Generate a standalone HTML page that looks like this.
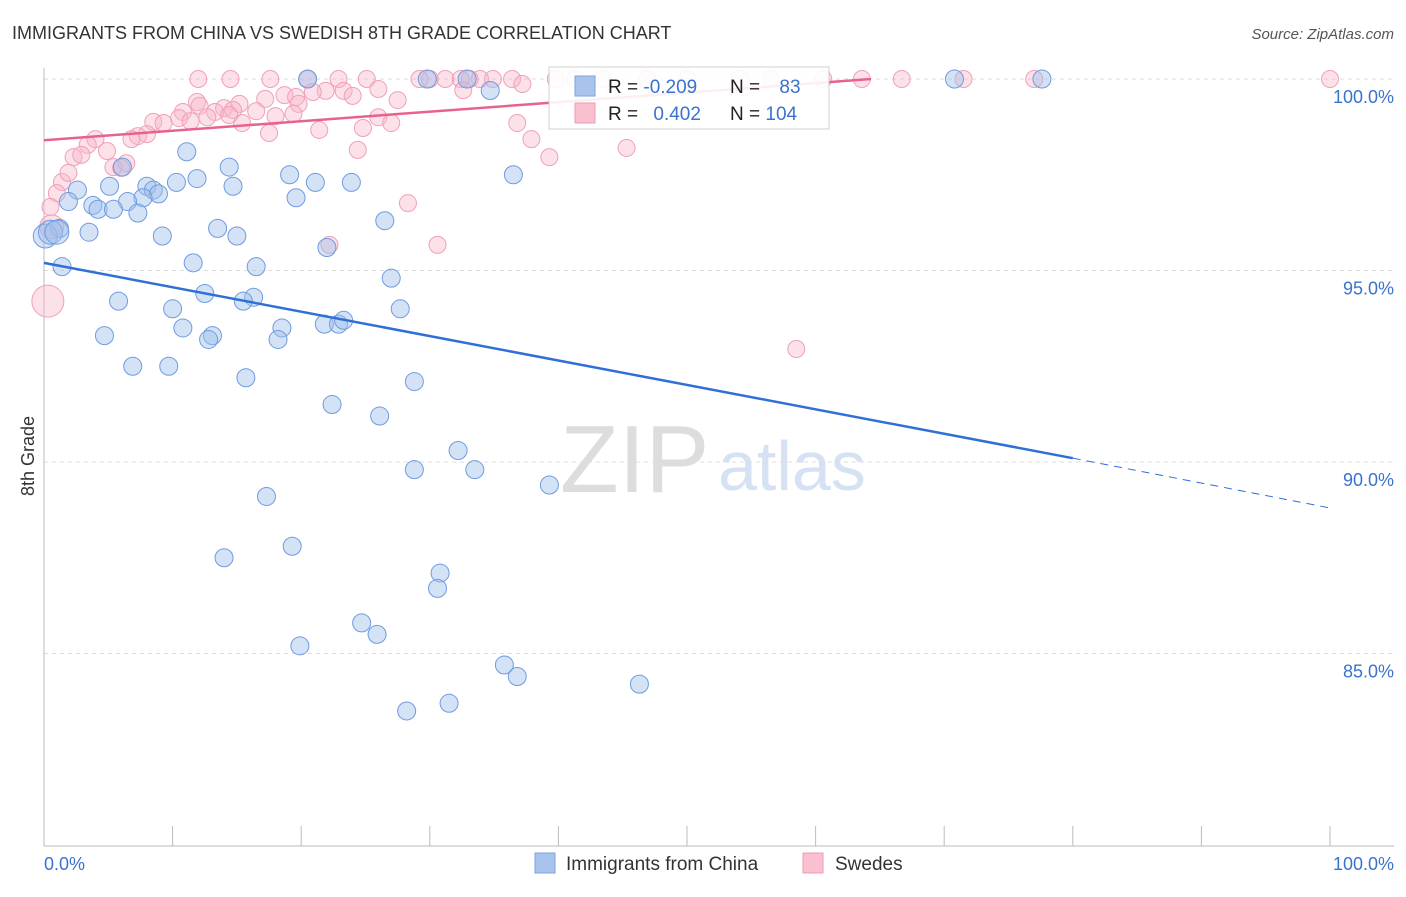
<!DOCTYPE html>
<html><head><meta charset="utf-8"><style>
body{margin:0;background:#fff;font-family:"Liberation Sans",sans-serif}
svg text{font-family:"Liberation Sans",sans-serif}
</style></head><body>
<svg id="c" width="1406" height="892">
<text x="12" y="39" font-size="18" fill="#333">IMMIGRANTS FROM CHINA VS SWEDISH 8TH GRADE CORRELATION CHART</text>
<text x="1394" y="39" font-size="15" fill="#555" font-style="italic" text-anchor="end">Source: ZipAtlas.com</text>
<text x="560" y="492" font-size="96" fill="#ddd" font-family="Liberation Serif">ZIP</text>
<text x="718" y="490" font-size="70" fill="#d6e2f3">atlas</text>
<text x="34" y="456" font-size="18" fill="#333" transform="rotate(-90 34 456)" text-anchor="middle">8th Grade</text>
<g id="grid"></g><g id="pts"></g><g id="lines"></g>
<g>
<rect x="549" y="67" width="280" height="62" fill="#fff" stroke="#ccc" opacity="0.9"/>
<rect x="575" y="76" width="20" height="20" fill="#a9c4ec" stroke="#7aa3e0"/>
<rect x="575" y="103" width="20" height="20" fill="#f9c0d0" stroke="#f09ab3"/>
<text x="608" y="93" font-size="19" fill="#222">R = <tspan fill="#3a72d0">-0.209</tspan></text>
<text x="730" y="93" font-size="19" fill="#222">N = <tspan fill="#3a72d0" dx="14">83</tspan></text>
<text x="608" y="120" font-size="19" fill="#222">R = <tspan fill="#3a72d0" dx="10">0.402</tspan></text>
<text x="730" y="120" font-size="19" fill="#222">N = <tspan fill="#3a72d0">104</tspan></text>
</g>
<g>
<rect x="535" y="853" width="20" height="20" fill="#a9c4ec" stroke="#7aa3e0"/>
<text x="566" y="870" font-size="19" fill="#333">Immigrants from China</text>
<rect x="803" y="853" width="20" height="20" fill="#f9c0d0" stroke="#f09ab3"/>
<text x="835" y="870" font-size="19" fill="#333">Swedes</text>
</g>
<text x="44" y="870" font-size="18" fill="#3a72d0">0.0%</text>
<text x="1394" y="870" font-size="18" fill="#3a72d0" text-anchor="end">100.0%</text>
</svg>
<script>
const yTicks=[100,95,90,85];
const yTickLabels=["100.0%","95.0%","90.0%","85.0%"];
const chinaX=[20.5,29.8,32.9,70.8,77.6,34.7,11.1,14.4,6.1,36.5,19.1,23.9,21.1,10.3,11.9,8.0,5.1,14.7,8.5,8.9,2.6,19.6,7.7,6.5,1.9,3.8,4.2,5.4,7.3,26.5,13.5,1.2,3.5,9.2,15.0,0.1,0.5,1.0,22.0,11.6,16.5,1.4,27.0,5.8,12.5,16.3,15.5,10.0,27.7,21.8,22.9,23.3,18.5,10.8,13.1,12.8,18.2,4.7,6.9,9.7,15.7,28.8,22.4,26.1,32.2,33.5,28.8,39.3,17.3,19.3,14.0,30.8,30.6,24.7,25.9,19.9,35.8,36.8,46.3,31.5,28.2];
const chinaY=[100,100,100,100,100,99.7,98.1,97.7,97.7,97.5,97.5,97.3,97.3,97.3,97.4,97.2,97.2,97.2,97.1,97.0,97.1,96.9,96.9,96.8,96.8,96.7,96.6,96.6,96.5,96.3,96.1,96.1,96.0,95.9,95.9,95.9,96.0,96.0,95.6,95.2,95.1,95.1,94.8,94.2,94.4,94.3,94.2,94.0,94.0,93.6,93.6,93.7,93.5,93.5,93.3,93.2,93.2,93.3,92.5,92.5,92.2,92.1,91.5,91.2,90.3,89.8,89.8,89.4,89.1,87.8,87.5,87.1,86.7,85.8,85.5,85.2,84.7,84.4,84.2,83.7,83.5];
const swedeX=[100,77.0,71.5,66.7,63.6,60.6,56.5,54.1,50.0,46.9,43.5,41.3,39.8,36.4,34.9,33.9,33.1,32.4,31.2,30.0,29.2,25.1,22.9,20.5,17.6,14.5,12.0,
37.2,32.6,26.0,21.9,23.3,24.0,20.9,18.7,19.6,27.5,17.2,15.2,11.9,12.1,14.0,19.8,10.8,13.3,14.7,16.5,10.5,12.7,19.4,26.0,8.5,9.3,11.4,15.4,18.0,14.4,27.0,36.8,21.4,17.5,24.8,8.0,7.3,6.8,4.0,3.4,37.9,24.4,45.3,39.3,4.9,2.3,2.9,5.4,6.4,6.0,1.4,1.9,1.0,0.5,28.3,0.6,30.6,22.2,58.5,0.3];
const swedeY=[100,100,100,100,100,100,100,100,100,100,100,100,100,100,100,100,100,100,100,100,100,100,100,100,100,100,100,
99.87,99.71,99.74,99.69,99.69,99.56,99.66,99.58,99.53,99.45,99.48,99.35,99.4,99.3,99.24,99.35,99.14,99.14,99.19,99.16,98.98,99.0,99.09,99.0,98.88,98.85,98.9,98.85,99.03,99.06,98.85,98.85,98.67,98.59,98.72,98.56,98.51,98.43,98.43,98.28,98.43,98.15,98.2,97.96,98.12,97.96,98.02,97.7,97.8,97.68,97.31,97.55,97.02,96.66,96.76,96.14,95.67,95.67,92.95,94.2];
const chinaTrend=[[0,95.2],[80,90.1],[100,88.8]];
const swedeTrend=[[0,98.4],[64.3,100]];
const NS="http://www.w3.org/2000/svg";
const X=v=>44+v*12.86, Y=v=>79+(100-v)*38.3;
function mk(t,a,p){const e=document.createElementNS(NS,t);for(const k in a)e.setAttribute(k,a[k]);p.appendChild(e);return e;}
const g=document.getElementById('grid');
yTicks.forEach((t,i)=>{
 const l=mk('line',{x1:44,x2:1394,y1:Y(t),y2:Y(t),stroke:'#ddd','stroke-dasharray':'4,4'},g);
 
 
 const tx=mk('text',{x:1394,y:Y(t)+24,'font-size':18,fill:'#3a72d0','text-anchor':'end'},g);
 tx.textContent=yTickLabels[i];
 
 
});
mk('line',{x1:44,x2:44,y1:68,y2:846,stroke:'#bbb'},g);
mk('line',{x1:44,x2:1394,y1:846,y2:846,stroke:'#bbb'},g);
for(let i=0;i<=10;i++){const tk=mk('line',{x1:X(i*10),x2:X(i*10),y1:826,y2:846,stroke:'#bbb'},g);
 
 }
const p=document.getElementById('pts');
swedeX.forEach((x,i)=>{const c=mk('circle',{cx:X(x),cy:Y(swedeY[i]),r:i==swedeX.length-1?16:(i>=swedeX.length-6&&x<2?12:8.5),fill:'rgba(248,180,200,0.4)',stroke:'#f0a0b8','stroke-width':1},p);
 
 });
chinaX.forEach((x,i)=>{const c=mk('circle',{cx:X(x),cy:Y(chinaY[i]),r:(i>=35&&i<=37)?12:9,fill:'rgba(160,190,235,0.45)',stroke:'#6f9be0','stroke-width':1},p);
 
 });
const L=document.getElementById('lines');
let a=mk('line',{x1:X(chinaTrend[0][0]),y1:Y(chinaTrend[0][1]),x2:X(chinaTrend[1][0]),y2:Y(chinaTrend[1][1]),stroke:'#2f6fd6','stroke-width':2.5},L);


a=mk('line',{x1:X(chinaTrend[1][0]),y1:Y(chinaTrend[1][1]),x2:X(chinaTrend[2][0]),y2:Y(chinaTrend[2][1]),stroke:'#2f6fd6','stroke-width':1,'stroke-dasharray':'8,6'},L);


a=mk('line',{x1:X(swedeTrend[0][0]),y1:Y(swedeTrend[0][1]),x2:X(swedeTrend[1][0]),y2:Y(swedeTrend[1][1]),stroke:'#e8628f','stroke-width':2.5},L);


</script>
</body></html>
